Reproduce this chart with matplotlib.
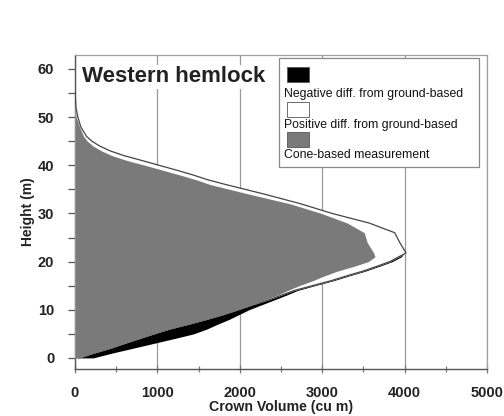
import matplotlib
matplotlib.use("Agg")
import matplotlib.pyplot as plt
from matplotlib.patches import Rectangle
from matplotlib.ticker import MultipleLocator

plt.rcParams['font.family'] = ['Liberation Sans', 'DejaVu Sans']

# ---- data ----
heights = [0, 1, 2, 3, 4, 5, 6, 7, 8, 9, 10, 11, 12, 13, 14, 15, 16, 17, 18, 19, 20, 21, 21.8,
           24, 26, 28, 30, 32, 34, 36, 37, 38, 39, 40, 41, 42, 43, 44, 45, 46, 48, 50, 52, 54, 55]
# cone-based measurement (grey)
cone_based = [50, 230, 430, 600, 780, 960, 1150, 1380, 1600, 1800, 1980, 2150, 2300, 2450, 2580,
              2720, 2880, 3020, 3180, 3380, 3560, 3640, 3625,
              3545, 3510, 3305, 2990, 2610, 2115, 1640, 1470, 1270, 1060, 850, 630, 450, 320, 220, 150,
              105, 55, 15, 0, 0, 0]
# outer edge of positive difference from ground-based (white)
positive_edge = [50, 230, 430, 600, 780, 960, 1150, 1380, 1600, 1800, 1980, 2150, 2340, 2500, 2660,
                 2880, 3100, 3290, 3490, 3660, 3820, 3930, 4017,
                 3940, 3880, 3570, 3120, 2740, 2300, 1830, 1610, 1430, 1230, 1020, 810, 595, 425, 300, 205,
                 140, 70, 35, 12, 4, 0]
# outer edge of negative difference from ground-based (black)
negative_edge = [220, 450, 700, 950, 1200, 1440, 1600, 1730, 1870, 1990, 2110, 2260, 2410, 2560, 2700,
                 2910, 3130, 3320, 3520, 3690, 3850, 3960, 4000,
                 3545, 3510, 3305, 2990, 2610, 2115, 1640, 1470, 1270, 1060, 850, 630, 450, 320, 220, 150,
                 105, 55, 15, 0, 0, 0]

legend_labels = ["Negative diff. from ground-based",
                 "Positive diff. from ground-based",
                 "Cone-based measurement"]
x_ticks = [0, 1000, 2000, 3000, 4000, 5000]
y_ticks = [0, 10, 20, 30, 40, 50, 60]

GREY = '#7a7a7a'
TXT = '#222222'

fig = plt.figure(figsize=(5.04, 4.16), dpi=100)
ax = fig.add_axes([0.1488, 0.113, 0.8175, 0.7548])

ax.fill_betweenx(heights, 0, negative_edge, color='black', lw=0, zorder=2)
ax.fill_betweenx(heights, 0, positive_edge, color='white', lw=0, zorder=3)
ax.plot(positive_edge, heights, color='#444444', lw=0.9, zorder=4)
ax.fill_betweenx(heights, 0, cone_based, color=GREY, lw=0, zorder=5)

ax.set_xlim(0, 5000)
ax.set_ylim(-2.3, 62.9)
ax.set_xticks(x_ticks)
ax.set_yticks(y_ticks)
ax.xaxis.set_minor_locator(MultipleLocator(500))
ax.yaxis.set_minor_locator(MultipleLocator(5))
ax.grid(axis='x', which='major', color='#9a9a9a', lw=0.9, zorder=1)
ax.set_axisbelow(True)

for s in ['left', 'bottom']:
    ax.spines[s].set_color('#555555')
    ax.spines[s].set_linewidth(1.0)
for s in ['top', 'right']:
    ax.spines[s].set_color('#a0a0a0')
    ax.spines[s].set_linewidth(0.9)

ax.tick_params(axis='y', which='major', direction='out', length=5, width=0.9, color='#555555',
               labelsize=10.5, pad=10)
ax.tick_params(axis='y', which='minor', direction='out', length=5, width=0.9, color='#555555')
ax.tick_params(axis='x', which='major', direction='inout', length=6, width=0.9, color='#777777',
               labelsize=10.5, pad=9)
ax.tick_params(axis='x', which='minor', direction='inout', length=4, width=0.9, color='#777777')
for lab in ax.get_xticklabels() + ax.get_yticklabels():
    lab.set_fontweight('bold')
    lab.set_color(TXT)

ax.set_xlabel('Crown Volume (cu m)', fontsize=10.2, fontweight='bold', color=TXT, labelpad=0)
ax.set_ylabel('Height (m)', fontsize=10, fontweight='bold', color=TXT, labelpad=2)

ax.text(0.017, 0.93, 'Western hemlock', transform=ax.transAxes, fontsize=16, fontweight='bold',
        color=TXT, va='center', ha='left', zorder=6,
        bbox=dict(facecolor='white', edgecolor='none', pad=1))

# legend drawn manually (patch above each label)
ax.add_patch(Rectangle((0.495, 0.643), 0.486, 0.347, transform=ax.transAxes, facecolor='white',
                       edgecolor='#888888', lw=0.9, zorder=6))
colors = ['black', 'white', GREY]
patch_y = [0.914, 0.803, 0.707]
text_y = [0.876, 0.777, 0.682]
for c, py, ty, lab in zip(colors, patch_y, text_y, legend_labels):
    ax.add_patch(Rectangle((0.515, py), 0.053, 0.048, transform=ax.transAxes, facecolor=c,
                           edgecolor='#555555', lw=0.6, zorder=7))
    ax.text(0.507, ty, lab, transform=ax.transAxes, fontsize=8.8, color='#111111',
            va='center', ha='left', zorder=7)

fig.savefig('out.png', dpi=100, facecolor='white')
